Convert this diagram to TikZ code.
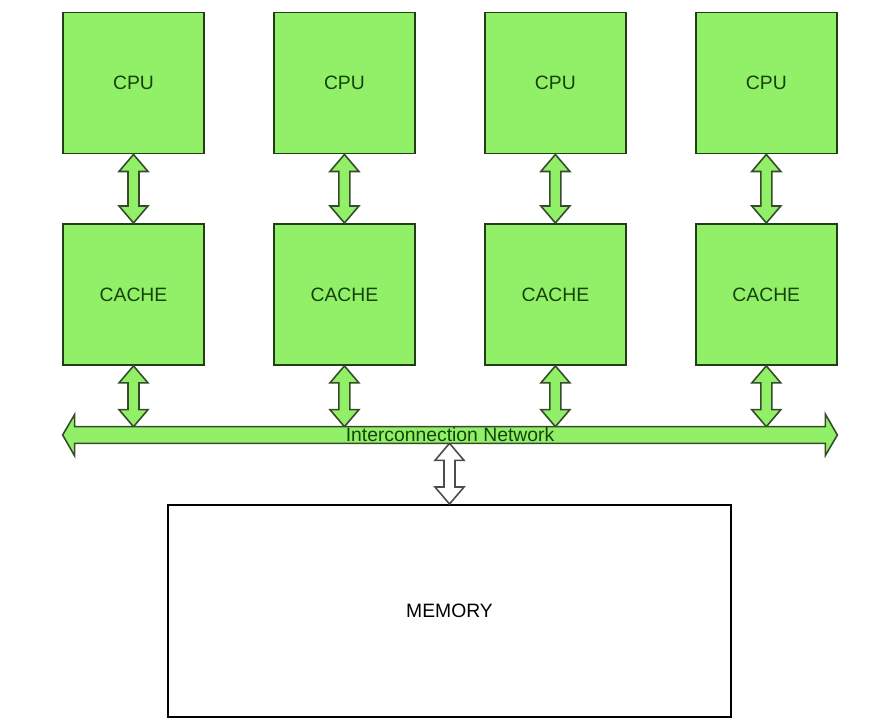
\documentclass[tikz,border=0pt]{standalone}
\usepackage{fontspec}
\setmainfont{Liberation Sans}
\usepackage{tikz}
\usetikzlibrary{positioning,calc}

\definecolor{boxgreen}{RGB}{146,240,104}
\definecolor{edgegreen}{RGB}{34,62,22}
\definecolor{textgreen}{RGB}{22,66,12}

\tikzset{
  unit/.style={draw=edgegreen,fill=boxgreen,line width=1.1pt,minimum size=2.82cm,
    inner sep=0pt,text=textgreen,font=\fontsize{11}{13}\selectfont},
  memunit/.style={draw=black,fill=white,line width=1.1pt,minimum width=11.26cm,
    minimum height=4.24cm,font=\fontsize{11}{13}\selectfont},
  link/.style={draw=edgegreen!80!gray,fill=boxgreen,line width=0.9pt,line join=miter},
  memlink/.style={draw=black!70,fill=white,line width=0.9pt,line join=miter}
}

% vertical double arrow between two points
\newcommand{\vlink}[3]{%
  \filldraw[#1] (#2) -- ++(0.29,-0.34) -- ++(-0.18,0) -- ($(#3)+(0.11,0.34)$)
    -- ++(0.18,0) -- (#3) -- ++(-0.29,0.34) -- ++(0.18,0)
    -- ($(#2)+(-0.11,-0.34)$) -- ++(-0.18,0) -- cycle;}

\begin{document}
\begin{tikzpicture}
  \useasboundingbox (0,0) rectangle (17.5,-14.5);
  \node [unit] (cpu1) at (2.67,-1.66) {CPU};
  \node [unit,right=1.36cm of cpu1] (cpu2) {CPU};
  \node [unit,right=1.36cm of cpu2] (cpu3) {CPU};
  \node [unit,right=1.36cm of cpu3] (cpu4) {CPU};
  \node [unit,below=1.37cm of cpu1] (cache1) {CACHE};
  \node [unit,below=1.37cm of cpu2] (cache2) {CACHE};
  \node [unit,below=1.37cm of cpu3] (cache3) {CACHE};
  \node [unit,below=1.37cm of cpu4] (cache4) {CACHE};
  \node [inner sep=0pt,minimum width=15cm,minimum height=0.32cm] (net) at (9,-8.7) {};
  \node [memunit] (mem) at (8.99,-12.22) {MEMORY};

  \vlink{link}{cpu1.south}{cache1.north}
  \vlink{link}{cpu2.south}{cache2.north}
  \vlink{link}{cpu3.south}{cache3.north}
  \vlink{link}{cpu4.south}{cache4.north}
  \vlink{link}{cache1.south}{cache1.south |- net.north}
  \vlink{link}{cache2.south}{cache2.south |- net.north}
  \vlink{link}{cache3.south}{cache3.south |- net.north}
  \vlink{link}{cache4.south}{cache4.south |- net.north}
  \vlink{memlink}{mem.north |- net.south}{mem.north}

  % the bus
  \filldraw [link] ($(net.west)+(-0.24,0)$) -- ++(0.24,0.41) -- (net.north west)
    -- (net.north east) -- ++(0,0.25) -- ($(net.east)+(0.24,0)$) -- ++(-0.24,-0.41)
    -- (net.south east) -- (net.south west) -- ++(0,-0.25) -- cycle;
  \node [text=textgreen,font=\fontsize{11}{13}\selectfont] (netlabel) at (net) {Interconnection Network};
\end{tikzpicture}
\end{document}
